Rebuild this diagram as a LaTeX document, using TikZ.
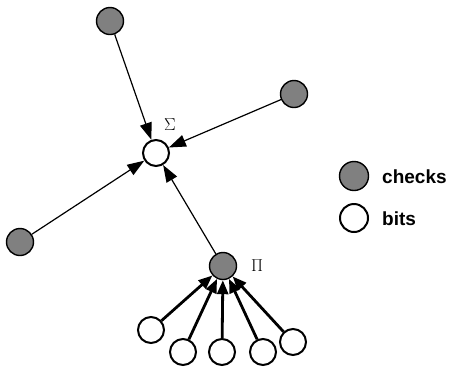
\documentclass[tikz,border=0pt]{standalone}
\usepackage{fontspec}
\setsansfont{Liberation Sans}
\usetikzlibrary{arrows.meta}
\begin{document}
\begin{tikzpicture}[x=1pt,y=-1pt,
  check/.style={circle,draw=black,fill=gray,line width=1.4pt,minimum size=27pt,inner sep=0pt},
  bit/.style={circle,draw=black,fill=white,line width=2pt,minimum size=26pt,inner sep=0pt},
  thinarrow/.style={line width=1.2pt,-{Triangle[length=17pt,width=12pt]}},
  thickarrow/.style={line width=2.8pt,-{Triangle[length=14pt,width=11pt]}},
  lab/.style={font=\sffamily\bfseries\fontsize{19}{22}\selectfont,anchor=west,inner sep=0pt}]
\useasboundingbox (0,0) rectangle (457,368);
\node[check] (t) at (110,21) {};
\node[check] (r) at (294,94) {};
\node[check] (l) at (20,242) {};
\node[bit] (s) at (156,153) {};
\node[check] (p) at (223,266) {};
\node[bit] (b1) at (151,330) {};
\node[bit] (b2) at (183,352) {};
\node[bit] (b3) at (222,352) {};
\node[bit] (b4) at (263,352) {};
\node[bit] (b5) at (293,342) {};
\node[font=\fontsize{19}{22}\selectfont] (sig) at (170,125) {$\Sigma$};
\node[font=\fontsize{19}{22}\selectfont] (pi) at (257,266) {$\Pi$};
\draw[thinarrow] (t) -- (s);
\draw[thinarrow] (r) -- (s);
\draw[thinarrow] (l) -- (s);
\draw[thinarrow] (p) -- (s);
\foreach \b in {b1,b2,b3,b4,b5} \draw[thickarrow] (\b) -- (p);
\node[check,minimum size=29pt] (lc) at (354,176) {};
\node[bit,minimum size=28pt] (lb) at (354,218) {};
\node[lab] (lct) at (382,177) {checks};
\node[lab] (lbt) at (382,219) {bits};
\end{tikzpicture}
\end{document}
